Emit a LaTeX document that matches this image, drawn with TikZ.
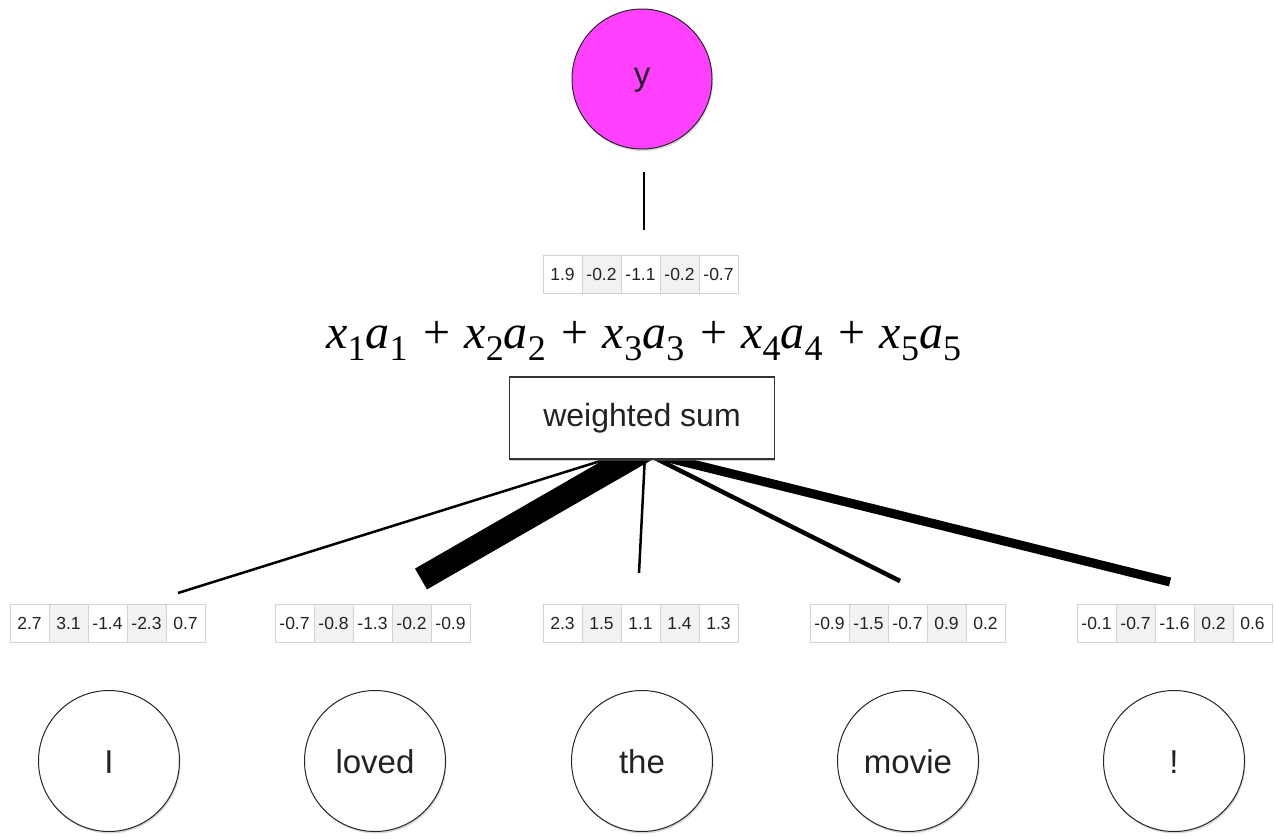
\documentclass[tikz,border=0pt]{standalone}
\usepackage{fontspec}
\setmainfont{Liberation Sans}
\newfontfamily\tms{Liberation Serif}
\usetikzlibrary{shadows}
\definecolor{cellgray}{HTML}{F2F2F2}
\definecolor{cellline}{HTML}{D3D3D3}
\definecolor{mag}{HTML}{FF40FF}
\definecolor{txt}{HTML}{222222}
\pgfdeclarelayer{bg}
\pgfsetlayers{bg,main}
\newcommand\subd[1]{\raisebox{-12pt}{\fontsize{36}{36}\selectfont #1}}
\newcommand\xaterm[1]{\textit{x}\subd{#1}\textit{a}\subd{#1}}
\newcommand\plusop{\hspace{16pt}+\hspace{14pt}}
\newcommand\vrow[4]{%
  \foreach \v [count=\i] in {#4} {%
    \pgfmathsetmacro\cx{#2+39*(\i-1)+19.5}%
    \ifodd\i\relax\def\cf{white}\else\def\cf{cellgray}\fi
    \node[cell, fill=\cf] (#1-\i) at (\cx,#3) {\v};
  }}
\begin{document}
\begin{tikzpicture}[x=1pt,y=-1pt,
  cell/.style={draw=cellline, line width=0.9pt, minimum width=39pt, minimum height=38pt,
    inner sep=0pt, text height=12.5pt, text depth=0pt,
    font=\fontsize{17.5}{17.5}\selectfont, text=txt},
  word/.style={circle, draw=black!85, line width=1pt, minimum size=141pt, inner sep=0pt,
    text height=24pt, text depth=0pt,
    fill=white, font=\fontsize{33}{33}\selectfont, text=txt,
    drop shadow={shadow xshift=1pt, shadow yshift=-2pt, opacity=0.3}},
  outnode/.style={word, fill=mag, minimum size=140pt, text height=18pt, text depth=6pt},
  sumbox/.style={draw=black!80, line width=1.2pt, fill=white, minimum width=265pt,
    minimum height=82pt, inner sep=0pt, font=\fontsize{32}{32}\selectfont, text=txt,
    drop shadow={shadow xshift=0pt, shadow yshift=-1.5pt, opacity=0.4}},
  wire/.style={line cap=butt, black}
]
\useasboundingbox (0,0) rectangle (1274,838);

% output node and its stub
\node[outnode] (y) at (642,79) {y};
\coordinate (ystubtop) at (644,172);
\coordinate (ystubbot) at (644,230);
\draw[wire, line width=2.5pt] (ystubtop) -- (ystubbot);

% top vector
\vrow{top}{543}{274}{1.9,-0.2,-1.1,-0.2,-0.7}

% equation
\node[anchor=base west, inner sep=0pt, font=\tms\fontsize{48}{48}\selectfont] (eq) at (326,348)
  {\xaterm{1}\plusop\xaterm{2}\plusop\xaterm{3}\plusop\xaterm{4}\plusop\xaterm{5}};

% weighted sum box
\node[sumbox] (ws) at (642,418) {weighted sum};

% bottom vectors
\vrow{vI}{10}{623}{2.7,3.1,-1.4,-2.3,0.7}
\vrow{vloved}{275}{623}{-0.7,-0.8,-1.3,-0.2,-0.9}
\vrow{vthe}{543}{623}{2.3,1.5,1.1,1.4,1.3}
\vrow{vmovie}{810}{623}{-0.9,-1.5,-0.7,0.9,0.2}
\vrow{vexcl}{1077}{623}{-0.1,-0.7,-1.6,0.2,0.6}

% word nodes
\node[word] (wI) at (109,761) {I};
\node[word] (wloved) at (375,761) {loved};
\node[word] (wthe) at (642,761) {the};
\node[word] (wmovie) at (908,761) {movie};
\node[word] (wexcl) at (1174,761) {!};

% attention wires (free ends as named coordinates)
\coordinate (b1) at (178,593);
\coordinate (t1) at (610,458);
\coordinate (b2) at (421,579);
\coordinate (t2) at (645,450);
\coordinate (b3) at (639,573);
\coordinate (t3) at (645,455);
\coordinate (b4) at (900,581);
\coordinate (t4) at (649,455);
\coordinate (b5) at (1170,582);
\coordinate (t5) at (660,456);
\begin{pgfonlayer}{bg}
\draw[wire, line width=2.5pt] (b1) -- (t1);
\draw[wire, line width=24pt] (b2) -- (t2);
\draw[wire, line width=2.5pt] (b3) -- (t3);
\draw[wire, line width=4.5pt] (b4) -- (t4);
\draw[wire, line width=9pt] (b5) -- (t5);
\end{pgfonlayer}
\end{tikzpicture}
\end{document}
